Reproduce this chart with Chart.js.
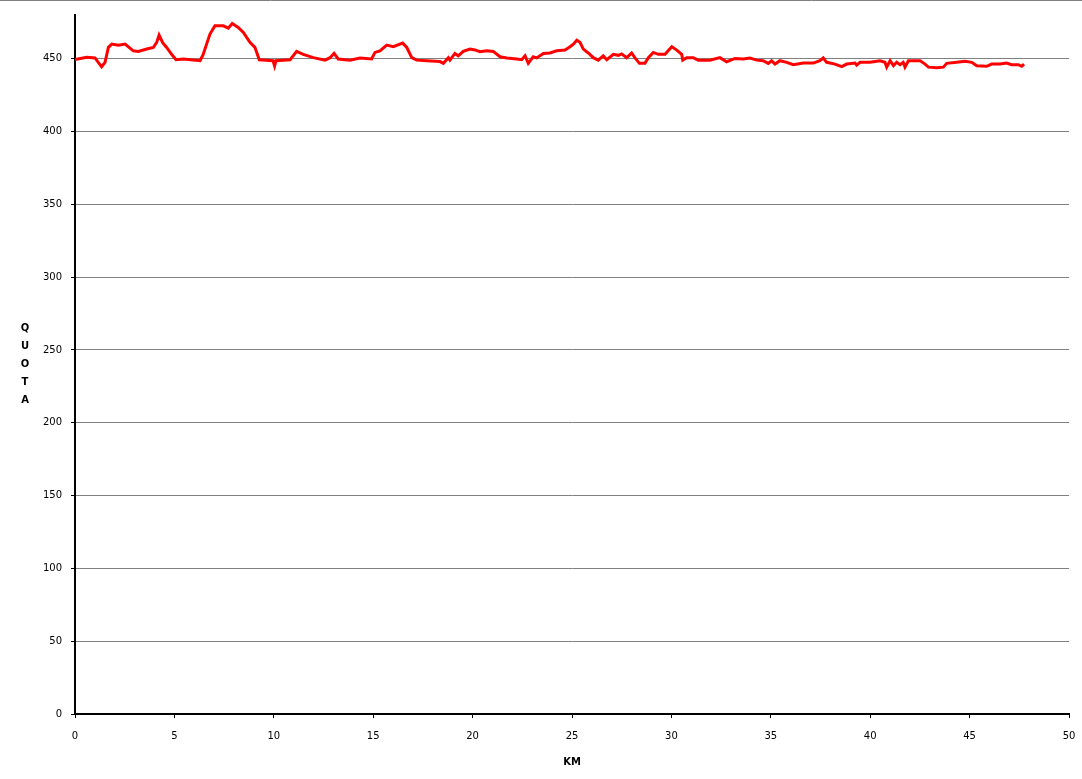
<!DOCTYPE html>
<html>
<head>
<meta charset="utf-8">
<title>Profilo altimetrico</title>
<script src="https://cdn.jsdelivr.net/npm/chart.js@4/dist/chart.umd.min.js"></script>
<style>
  html, body { margin: 0; padding: 0; background: #fff; }
  #wrap { width: 1082px; height: 779px; position: relative; }
</style>
</head>
<body>
<div id="wrap"><canvas id="profileChart"></canvas></div>
<script>
// Distance (km) and altitude (quota)
const kmValues = [
  0.00, 0.59, 1.01, 1.17, 1.34, 1.51, 1.68, 1.85, 2.18, 2.52, 2.93, 3.18, 3.61, 3.94, 4.11, 4.23, 4.41, 4.61, 4.86, 5.08,
  5.45, 5.95, 6.29, 6.45, 6.62, 6.79, 7.04, 7.46, 7.71, 7.91, 8.21, 8.47, 8.80, 9.05, 9.27, 9.96, 10.04, 10.11, 10.82, 11.15,
  11.48, 11.99, 12.58, 12.83, 13.03, 13.24, 13.83, 14.34, 14.92, 15.09, 15.34, 15.68, 16.01, 16.48, 16.69, 16.94, 17.19, 17.69, 18.36, 18.53,
  18.78, 18.86, 19.11, 19.28, 19.53, 19.87, 20.12, 20.37, 20.71, 21.04, 21.38, 21.72, 22.22, 22.47, 22.64, 22.80, 23.05, 23.22, 23.56, 23.89,
  24.23, 24.65, 24.90, 25.07, 25.24, 25.40, 25.57, 25.82, 26.07, 26.32, 26.57, 26.75, 27.08, 27.33, 27.50, 27.75, 28.00, 28.17, 28.39, 28.67,
  28.84, 29.09, 29.34, 29.68, 30.02, 30.27, 30.52, 30.57, 30.77, 31.10, 31.35, 31.94, 32.44, 32.78, 33.20, 33.62, 33.95, 34.29, 34.62, 34.87,
  35.04, 35.21, 35.46, 35.80, 36.13, 36.63, 37.14, 37.47, 37.64, 37.81, 37.98, 38.23, 38.57, 38.82, 39.24, 39.32, 39.49, 39.99, 40.49, 40.74,
  40.83, 41.00, 41.17, 41.33, 41.50, 41.66, 41.75, 41.92, 42.51, 42.76, 42.93, 43.35, 43.68, 43.85, 44.35, 44.77, 45.11, 45.36, 45.86, 46.11,
  46.53, 46.86, 47.11, 47.45, 47.62, 47.74
];
const quotaValues = [
  449.5, 451.0, 450.5, 447.5, 444.5, 447.5, 457.8, 460.0, 459.3, 460.0, 455.4, 455.0, 456.6, 457.7, 461.2, 466.2, 461.0, 457.7, 453.0, 449.3,
  449.8, 449.1, 448.6, 453.0, 460.0, 466.9, 472.6, 472.6, 471.0, 474.2, 471.4, 468.0, 461.2, 457.8, 449.3, 448.6, 445.0, 448.6, 449.3, 455.0,
  453.0, 450.7, 449.0, 450.7, 453.7, 449.8, 449.0, 450.5, 449.8, 454.3, 455.4, 459.3, 458.2, 460.7, 457.7, 450.7, 449.0, 448.6, 448.0, 446.8,
  450.7, 449.0, 453.6, 452.0, 455.0, 456.6, 456.0, 454.8, 455.4, 455.0, 451.3, 450.5, 449.8, 449.3, 452.0, 446.8, 451.3, 450.5, 453.6, 453.9,
  455.4, 455.9, 458.2, 460.0, 462.7, 461.2, 456.6, 453.9, 450.7, 449.0, 452.0, 449.3, 453.0, 452.3, 453.3, 450.7, 453.9, 450.5, 446.8, 446.8,
  450.7, 454.3, 453.0, 453.0, 458.2, 455.9, 453.0, 449.0, 450.7, 450.7, 449.0, 449.0, 450.7, 447.9, 450.2, 449.8, 450.5, 449.0, 448.6, 446.8,
  448.6, 446.3, 448.6, 447.5, 445.9, 447.0, 447.0, 448.6, 450.5, 447.5, 447.0, 446.3, 444.5, 446.3, 447.0, 445.6, 447.5, 447.5, 448.6, 447.5,
  444.2, 448.6, 445.2, 447.5, 445.9, 447.5, 444.2, 448.6, 448.6, 446.3, 444.2, 443.8, 444.2, 446.8, 447.5, 448.2, 447.5, 445.2, 444.8, 446.3,
  446.3, 447.0, 445.9, 445.9, 444.8, 446.3
];

const xTitle = 'KM';
const yTitleLetters = ['Q', 'U', 'O', 'T', 'A'];

const tickFont = { family: '"DejaVu Sans", sans-serif', size: 10 };

// Stacked "QUOTA" letters on the left and the thin gray frame line at the top
const extrasPlugin = {
  id: 'extras',
  afterDraw(chart) {
    const ctx = chart.ctx;
    const area = chart.chartArea;
    const mid = (area.top + area.bottom) / 2;
    ctx.save();
    ctx.font = 'bold 10px "DejaVu Sans", sans-serif';
    ctx.fillStyle = '#000';
    ctx.textAlign = 'center';
    ctx.textBaseline = 'middle';
    yTitleLetters.forEach((ch, i) => {
      ctx.fillText(ch, 25, mid + (i - (yTitleLetters.length - 1) / 2) * 18);
    });
    ctx.strokeStyle = '#808080';
    ctx.lineWidth = 1;
    ctx.beginPath();
    ctx.moveTo(0, 0.5);
    ctx.lineTo(chart.width, 0.5);
    ctx.stroke();
    ctx.restore();
  }
};

const ctx = document.getElementById('profileChart').getContext('2d');
new Chart(ctx, {
  type: 'line',
  data: {
    datasets: [{
      label: 'Quota',
      data: kmValues.map((km, i) => ({ x: km, y: quotaValues[i] })),
      borderColor: '#ff0000',
      borderWidth: 3,
      pointRadius: 0,
      tension: 0,
      fill: false
    }]
  },
  options: {
    responsive: true,
    maintainAspectRatio: false,
    animation: false,
    layout: { padding: { top: 15, right: 13, bottom: 0, left: 0 } },
    plugins: {
      legend: { display: false },
      tooltip: { enabled: false }
    },
    scales: {
      x: {
        type: 'linear',
        min: 0,
        max: 50,
        ticks: { stepSize: 5, color: '#000', font: tickFont, padding: 12, maxRotation: 0 },
        grid: { drawOnChartArea: false, tickLength: 4, color: '#000', tickColor: '#000' },
        border: { color: '#000', width: 2 },
        title: {
          display: true,
          text: xTitle,
          color: '#000',
          font: { family: '"DejaVu Sans", sans-serif', size: 10, weight: 'bold' },
          padding: { top: 0, bottom: 11 }
        },
        afterFit(scale) {
          scale.height = 65;
          scale.paddingLeft = 0;
          scale.paddingRight = 0;
        }
      },
      y: {
        min: 0,
        max: 480,
        ticks: { stepSize: 50, color: '#000', font: tickFont, padding: 9 },
        afterBuildTicks(scale) {
          scale.ticks = scale.ticks.filter(t => t.value % 50 === 0);
        },
        grid: { color: '#808080', lineWidth: 1, tickLength: 4, tickColor: '#000' },
        border: { color: '#000', width: 2 },
        afterFit(scale) {
          scale.width = 75;
          scale.paddingTop = 0;
          scale.paddingBottom = 0;
        }
      }
    }
  },
  plugins: [extrasPlugin]
});
</script>
</body>
</html>
